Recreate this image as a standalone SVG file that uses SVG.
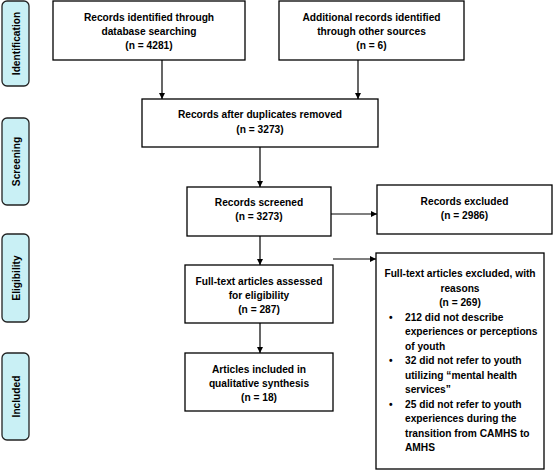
<svg xmlns="http://www.w3.org/2000/svg" width="553" height="470" viewBox="0 0 553 470">
<defs>
<style>
.box{fill:#fff;stroke:#000;stroke-width:1.3}
.lbl{fill:#c9f0f5;stroke:#222;stroke-width:1.3}
text{font-family:"Liberation Sans",Arial,sans-serif;font-weight:bold;font-size:10.2px;fill:#000}
.c{text-anchor:middle}
.conn line{stroke:#000;stroke-width:1.2;fill:none}
</style>
<marker id="ah" viewBox="0 0 10 10" refX="10" refY="5" markerWidth="6" markerHeight="6" markerUnits="userSpaceOnUse" orient="auto"><path d="M0,0 L10,5 L0,10 z" fill="#000"/></marker>
</defs>
<rect width="553" height="470" fill="#fff"/>
<g id="label-identification"><rect class="lbl" x="2" y="1" width="27" height="85" rx="5"/><text class="c" transform="translate(19.5,43.5) rotate(-90)">Identification</text></g>
<g id="label-screening"><rect class="lbl" x="2" y="118" width="27" height="87" rx="5"/><text class="c" transform="translate(19.5,161.5) rotate(-90)">Screening</text></g>
<g id="label-eligibility"><rect class="lbl" x="2" y="234" width="27" height="88" rx="5"/><text class="c" transform="translate(19.5,278) rotate(-90)">Eligibility</text></g>
<g id="label-included"><rect class="lbl" x="2" y="353" width="27" height="87" rx="5"/><text class="c" transform="translate(19.5,396.5) rotate(-90)">Included</text></g>
<g id="db"><rect class="box" x="53" y="1" width="192" height="59"/><text class="c" x="149" y="21">Records identified through</text><text class="c" x="149" y="35">database searching</text><text class="c" x="149" y="49">(n = 4281)</text></g>
<g id="other"><rect class="box" x="279" y="1" width="185" height="59"/><text class="c" x="371.5" y="21">Additional records identified</text><text class="c" x="371.5" y="35">through other sources</text><text class="c" x="371.5" y="49">(n = 6)</text></g>
<g id="dup"><rect class="box" x="142" y="99" width="236" height="48"/><text class="c" x="260" y="118">Records after duplicates removed</text><text class="c" x="260" y="133">(n = 3273)</text></g>
<g id="screened"><rect class="box" x="187" y="187" width="144" height="49"/><text class="c" x="259" y="206">Records screened</text><text class="c" x="259" y="220">(n = 3273)</text></g>
<g id="excluded"><rect class="box" x="377" y="185" width="175" height="49"/><text class="c" x="464.5" y="205">Records excluded</text><text class="c" x="464.5" y="219">(n = 2986)</text></g>
<g id="fulltext"><rect class="box" x="185" y="265" width="148" height="58"/><text class="c" x="259" y="285">Full-text articles assessed</text><text class="c" x="259" y="299">for eligibility</text><text class="c" x="259" y="313">(n = 287)</text></g>
<g id="included"><rect class="box" x="185" y="353" width="148" height="58"/><text class="c" x="259" y="373">Articles included in</text><text class="c" x="259" y="387">qualitative synthesis</text><text class="c" x="259" y="401">(n = 18)</text></g>
<g id="ftexcluded"><rect class="box" x="376" y="253" width="168" height="216"/>
<text class="c" x="460" y="277">Full-text articles excluded, with</text>
<text class="c" x="460" y="291.5">reasons</text>
<text class="c" x="460" y="306">(n = 269)</text>
<text x="389" y="320.5">•</text><text x="405" y="320.5">212 did not describe</text>
<text x="405" y="335">experiences or perceptions</text>
<text x="405" y="349.5">of youth</text>
<text x="389" y="364">•</text><text x="405" y="364">32 did not refer to youth</text>
<text x="405" y="378.5">utilizing “mental health</text>
<text x="405" y="393">services”</text>
<text x="389" y="407.5">•</text><text x="405" y="407.5">25 did not refer to youth</text>
<text x="405" y="422">experiences during the</text>
<text x="405" y="436.5">transition from CAMHS to</text>
<text x="405" y="451">AMHS</text></g>
<g id="connectors" class="conn">
<line x1="162" y1="60" x2="162" y2="99" marker-end="url(#ah)"/>
<line x1="358" y1="60" x2="358" y2="99" marker-end="url(#ah)"/>
<line x1="260" y1="147" x2="260" y2="187" marker-end="url(#ah)"/>
<line x1="331" y1="214" x2="377" y2="214" marker-end="url(#ah)"/>
<line x1="260" y1="236" x2="260" y2="265" marker-end="url(#ah)"/>
<line x1="260" y1="323" x2="260" y2="353" marker-end="url(#ah)"/>
<line x1="333" y1="259" x2="376" y2="259" marker-end="url(#ah)"/>
</g>
</svg>
